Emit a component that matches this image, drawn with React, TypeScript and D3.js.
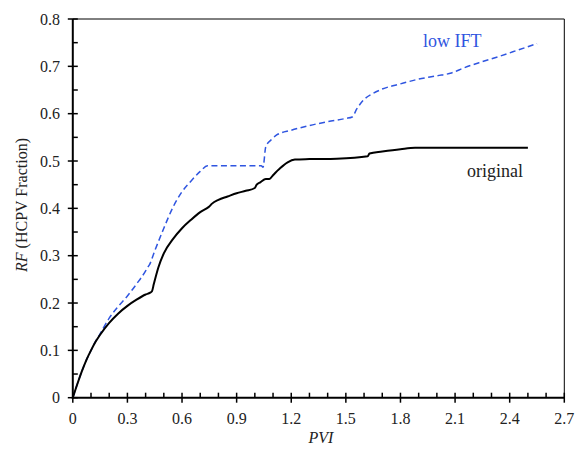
import React from "react";
import * as d3 from "d3";

const origX = [0, 0.025, 0.05, 0.075, 0.1, 0.125, 0.15, 0.2, 0.25, 0.3, 0.35, 0.4, 0.425, 0.435, 0.445, 0.47, 0.5, 0.55, 0.6, 0.65, 0.7, 0.75, 0.765, 0.8, 0.85, 0.9, 0.95, 1.0, 1.01, 1.03, 1.06, 1.08, 1.1, 1.14, 1.18, 1.22, 1.3, 1.45, 1.62, 1.63, 1.7, 1.8, 1.88, 2.0, 2.5];
const origY = [0, 0.029, 0.056, 0.08, 0.1, 0.118, 0.133, 0.158, 0.178, 0.194, 0.207, 0.218, 0.222, 0.225, 0.24, 0.275, 0.305, 0.335, 0.358, 0.376, 0.392, 0.404, 0.41, 0.418, 0.425, 0.432, 0.437, 0.443, 0.45, 0.455, 0.462, 0.462, 0.47, 0.485, 0.497, 0.503, 0.504, 0.505, 0.51, 0.516, 0.52, 0.525, 0.528, 0.528, 0.528];

const iftX = [0, 0.025, 0.05, 0.075, 0.1, 0.125, 0.15, 0.2, 0.25, 0.3, 0.35, 0.4, 0.41, 0.42, 0.45, 0.5, 0.55, 0.6, 0.65, 0.7, 0.74, 1.035, 1.045, 1.06, 1.09, 1.12, 1.2, 1.3, 1.4, 1.5, 1.535, 1.56, 1.6, 1.65, 1.7, 1.8, 1.9, 2.0, 2.08, 2.15, 2.25, 2.35, 2.45, 2.55];
const iftY = [0, 0.029, 0.056, 0.08, 0.1, 0.119, 0.135, 0.168, 0.193, 0.215, 0.24, 0.268, 0.275, 0.28, 0.31, 0.358, 0.402, 0.435, 0.458, 0.478, 0.49, 0.49, 0.487, 0.53, 0.545, 0.555, 0.565, 0.575, 0.583, 0.59, 0.593, 0.61, 0.63, 0.643, 0.652, 0.663, 0.673, 0.68, 0.686, 0.697, 0.71, 0.722, 0.735, 0.748];

const xMajor = [0, 0.3, 0.6, 0.9, 1.2, 1.5, 1.8, 2.1, 2.4, 2.7];
const xMajorLabels = ["0", "0.3", "0.6", "0.9", "1.2", "1.5", "1.8", "2.1", "2.4", "2.7"];
const yMajor = [0, 0.1, 0.2, 0.3, 0.4, 0.5, 0.6, 0.7, 0.8];
const yMajorLabels = ["0", "0.1", "0.2", "0.3", "0.4", "0.5", "0.6", "0.7", "0.8"];
const xMinor = [0.1, 0.2, 0.4, 0.5, 0.7, 0.8, 1.0, 1.1, 1.3, 1.4, 1.6, 1.7, 1.9, 2.0, 2.2, 2.3, 2.5, 2.6];
const yMinor = [0.05, 0.15, 0.25, 0.35, 0.45, 0.55, 0.65, 0.75];

const FONT = "Liberation Serif, DejaVu Serif, Times New Roman, serif";
const tStyle = { fontFamily: FONT };

export default function App() {
  const W = 575, H = 452;
  const x = d3.scaleLinear().domain([0, 2.7]).range([72.8, 564.3]);
  const y = d3.scaleLinear().domain([0, 0.8]).range([397.7, 19]);
  const line = d3.line<[number, number]>().x(d => x(d[0])).y(d => y(d[1])).curve(d3.curveMonotoneX);
  const orig: [number, number][] = origX.map((v, i) => [v, origY[i]]);
  const ift: [number, number][] = iftX.map((v, i) => [v, iftY[i]]);
  const x0 = x(0), x1 = x(2.7), y0 = y(0), y1 = y(0.8);
  return (
    <svg width={W} height={H} style={{ position: "absolute", left: 0, top: 0, background: "#fff" }}>
      <rect x={0} y={0} width={W} height={H} fill="#fff" />
      <line x1={x0} x2={x1} y1={y1} y2={y1} stroke="#000" strokeWidth={1} />
      <line x1={x1} x2={x1} y1={y1} y2={y0} stroke="#000" strokeWidth={1} />
      <path d={line(ift) || ""} fill="none" stroke="#2f55e0" strokeWidth={1.5} strokeDasharray="6,3.5" />
      <path d={line(orig) || ""} fill="none" stroke="#000" strokeWidth={2} strokeLinejoin="round" />
      <line x1={x0} x2={x0} y1={y1} y2={y0 + 1} stroke="#000" strokeWidth={2} />
      <line x1={x0 - 1} x2={x1} y1={y0} y2={y0} stroke="#000" strokeWidth={2} />
      {yMajor.map((v, i) => (
        <g key={"ym" + i}>
          <line x1={x0 - 5} x2={x0 + 5} y1={y(v)} y2={y(v)} stroke="#000" strokeWidth={1.5} />
          <text x={60} y={y(v)} dy="0.35em" textAnchor="end" style={tStyle} fontSize={16} fill="#222">{yMajorLabels[i]}</text>
        </g>
      ))}
      {yMinor.map((v, i) => (
        <line key={"yn" + i} x1={x0} x2={x0 + 5} y1={y(v)} y2={y(v)} stroke="#000" strokeWidth={1.5} />
      ))}
      {xMajor.map((v, i) => (
        <g key={"xm" + i}>
          <line x1={x(v)} x2={x(v)} y1={y0 - 5} y2={y0 + 5} stroke="#000" strokeWidth={1.5} />
          <text x={x(v)} y={423.5} textAnchor="middle" style={tStyle} fontSize={16} fill="#222">{xMajorLabels[i]}</text>
        </g>
      ))}
      {xMinor.map((v, i) => (
        <line key={"xn" + i} x1={x(v)} x2={x(v)} y1={y0} y2={y0 - 5} stroke="#000" strokeWidth={1.5} />
      ))}
      <text x={321} y={443} textAnchor="middle" style={tStyle} fontSize={16} fontStyle="italic" fill="#222">PVI</text>
      <text transform={`translate(27,${205}) rotate(-90)`} textAnchor="middle" style={tStyle} fontSize={16} fill="#222">
        <tspan fontStyle="italic">RF</tspan> (HCPV Fraction)
      </text>
      <text x={423} y={47} style={tStyle} fontSize={18} fill="#2f55e0">low IFT</text>
      <text x={467} y={177} style={tStyle} fontSize={18} fill="#222">original</text>
    </svg>
  );
}
